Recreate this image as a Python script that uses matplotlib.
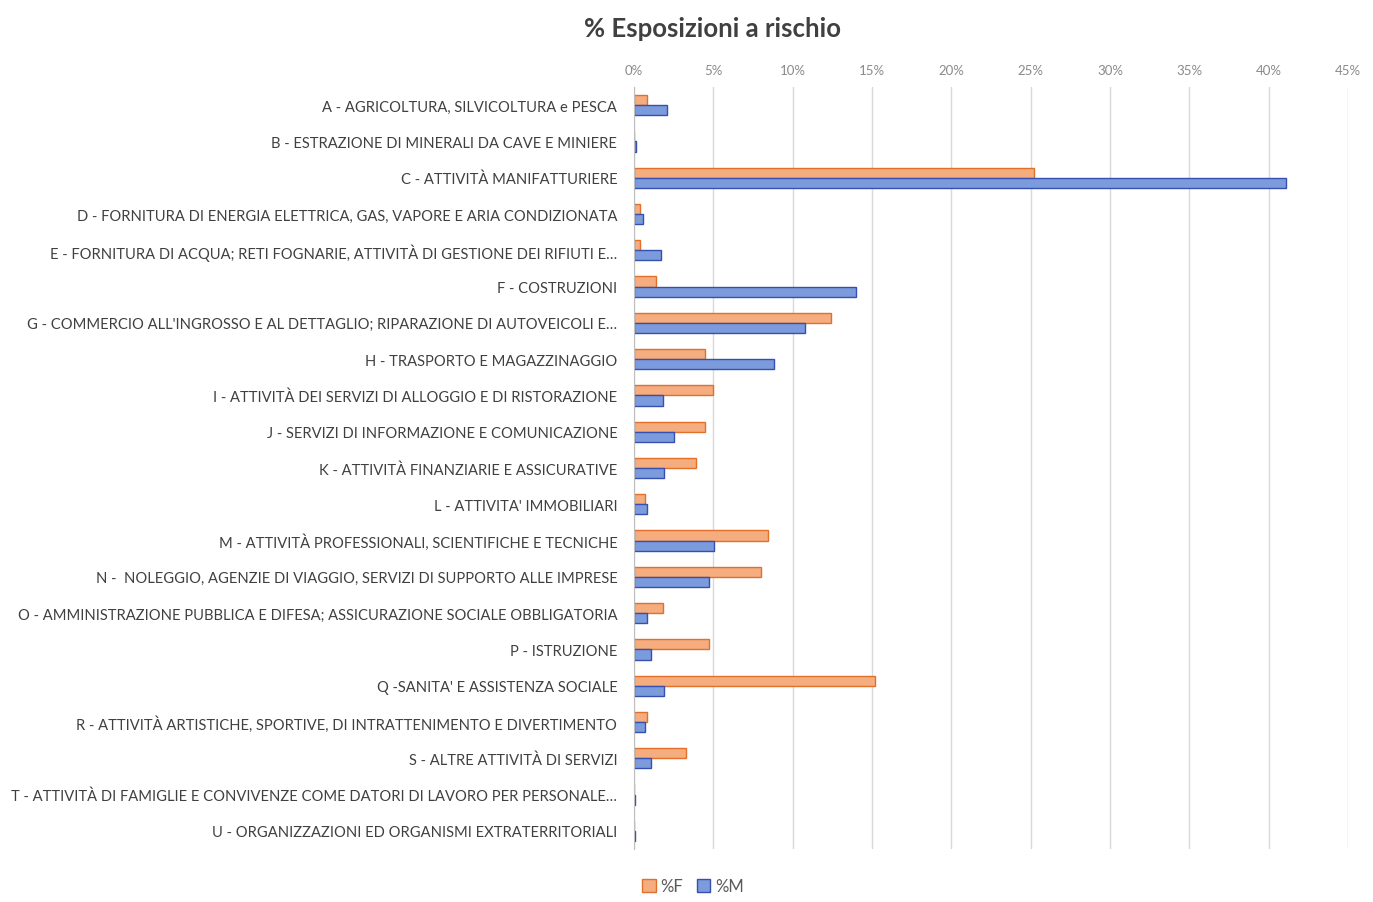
import numpy as np
import matplotlib
matplotlib.use("Agg")
import matplotlib.pyplot as plt
from matplotlib.ticker import FuncFormatter, MultipleLocator

plt.rcParams["font.family"] = ["Lato", "DejaVu Sans"]

categories = [
    "A - AGRICOLTURA, SILVICOLTURA e PESCA",
    "B - ESTRAZIONE DI MINERALI DA CAVE E MINIERE",
    "C - ATTIVITÀ MANIFATTURIERE",
    "D - FORNITURA DI ENERGIA ELETTRICA, GAS, VAPORE E ARIA CONDIZIONATA",
    "E - FORNITURA DI ACQUA; RETI FOGNARIE, ATTIVITÀ DI GESTIONE DEI RIFIUTI E…",
    "F - COSTRUZIONI",
    "G - COMMERCIO ALL'INGROSSO E AL DETTAGLIO; RIPARAZIONE DI AUTOVEICOLI E…",
    "H - TRASPORTO E MAGAZZINAGGIO",
    "I - ATTIVITÀ DEI SERVIZI DI ALLOGGIO E DI RISTORAZIONE",
    "J - SERVIZI DI INFORMAZIONE E COMUNICAZIONE",
    "K - ATTIVITÀ FINANZIARIE E ASSICURATIVE",
    "L - ATTIVITA' IMMOBILIARI",
    "M - ATTIVITÀ PROFESSIONALI, SCIENTIFICHE E TECNICHE",
    "N -  NOLEGGIO, AGENZIE DI VIAGGIO, SERVIZI DI SUPPORTO ALLE IMPRESE",
    "O - AMMINISTRAZIONE PUBBLICA E DIFESA; ASSICURAZIONE SOCIALE OBBLIGATORIA",
    "P - ISTRUZIONE",
    "Q -SANITA' E ASSISTENZA SOCIALE",
    "R - ATTIVITÀ ARTISTICHE, SPORTIVE, DI INTRATTENIMENTO E DIVERTIMENTO",
    "S - ALTRE ATTIVITÀ DI SERVIZI",
    "T - ATTIVITÀ DI FAMIGLIE E CONVIVENZE COME DATORI DI LAVORO PER PERSONALE…",
    "U - ORGANIZZAZIONI ED ORGANISMI EXTRATERRITORIALI",
]

# % of exposures at risk, by sex
pct_f = [0.8, 0.0, 25.2, 0.35, 0.4, 1.4, 12.4, 4.5, 5.0, 4.5, 3.9, 0.7,
         8.45, 8.0, 1.8, 4.7, 15.2, 0.8, 3.25, 0.03, 0.03]
pct_m = [2.1, 0.15, 41.1, 0.55, 1.7, 14.0, 10.8, 8.8, 1.85, 2.5, 1.9, 0.85,
         5.05, 4.7, 0.8, 1.1, 1.9, 0.7, 1.1, 0.05, 0.05]

fig = plt.figure(figsize=(13.73, 9.03), dpi=100)
ax = fig.add_axes([634 / 1373, 1 - 850 / 903, 714 / 1373, (850 - 88) / 903])

y = np.arange(len(categories))
h = 0.28
ax.barh(y - h / 2, pct_f, height=h, color="#F5AC7E", edgecolor="#E0702A",
        linewidth=1.0, label="%F")
ax.barh(y + h / 2, pct_m, height=h, color="#7C9BDC", edgecolor="#3550AE",
        linewidth=1.0, label="%M")

ax.set_ylim(len(categories) - 0.5, -0.5)
ax.set_xlim(0, 45)
ax.xaxis.set_major_locator(MultipleLocator(5))
ax.xaxis.set_major_formatter(FuncFormatter(lambda v, p: f"{v:.0f}%"))
ax.xaxis.tick_top()
ax.tick_params(axis="x", length=0, labelsize=9.5, labelcolor="#8a8a8a", pad=8)
ax.set_yticks(y)
ax.set_yticklabels(categories, fontsize=10.6, color="#404040")
ax.tick_params(axis="y", length=0, pad=12)
ax.grid(axis="x", color="#d9d9d9", linewidth=1)
ax.set_axisbelow(True)
for s in ["top", "right", "bottom"]:
    ax.spines[s].set_visible(False)
ax.spines["left"].set_color("#bfbfbf")

fig.text(713 / 1373, 1 - 29 / 903, "% Esposizioni a rischio", ha="center",
         va="center", fontsize=18.5, fontweight="bold", color="#404040")

fig.legend(loc="center", bbox_to_anchor=(693 / 1373, 1 - 887 / 903), ncol=2,
           frameon=False, fontsize=12, handlelength=0.8, handleheight=0.8,
           handletextpad=0.3, columnspacing=0.8, labelcolor="#595959")

fig.savefig("out.png", dpi=100)
